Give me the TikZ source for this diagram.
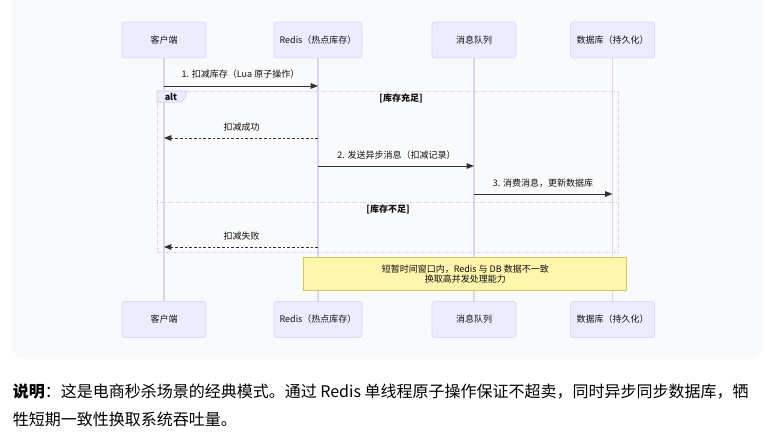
\documentclass[tikz,border=0pt]{standalone}
\usepackage{fontspec}
\setmainfont{Noto Sans CJK SC}
\usetikzlibrary{arrows.meta}
\definecolor{panelbg}{HTML}{F9FAFB}
\definecolor{actorbg}{HTML}{ECECFF}
\definecolor{actorline}{HTML}{DCDAF6}
\definecolor{lifecol}{HTML}{DDD3F5}
\definecolor{framecol}{HTML}{CFC7F0}
\definecolor{arrowcol}{HTML}{333333}
\definecolor{notebg}{HTML}{FFF5AD}
\definecolor{noteline}{HTML}{D2C75E}
\definecolor{textdark}{HTML}{111111}

\begin{document}
\begin{tikzpicture}[
    x=0.75pt, y=-0.75pt,
    every node/.style={inner sep=0pt, text=textdark,
      font=\fontsize{6.75}{8}\selectfont},
    actor/.style={draw=actorline, fill=actorbg, rounded corners=2pt,
      line width=0.6pt, minimum width=63pt, minimum height=27pt},
    life/.style={draw=lifecol, line width=1pt},
    msg/.style={draw=arrowcol, line width=0.7pt,
      -{Triangle[length=5.5pt,width=4.2pt]}},
    reply/.style={msg, dash pattern=on 2pt off 1.5pt},
    frame/.style={draw=framecol, line width=0.5pt, dash pattern=on 1pt off 1pt},
    note/.style={draw=noteline, fill=notebg, line width=0.75pt,
      minimum width=242pt, minimum height=24.75pt, align=center,
      font=\fontsize{6.75}{7.7}\selectfont}
  ]
  \useasboundingbox (0,0) rectangle (770,435);
  \fill[panelbg, rounded corners=9pt] (12,-20) rectangle (763,359);

  % participants
  \node (cliT) [actor] at (164,40) {客户端};
  \node (redT) [actor, minimum width=66pt] at (318,40) {Redis（热点库存）};
  \node (mqT) [actor] at (474,40) {消息队列};
  \node (dbT) [actor] at (612.5,40) {数据库（持久化）};
  \node (cliB) [actor] at (164,319.5) {客户端};
  \node (redB) [actor, minimum width=66pt] at (318,319.5) {Redis（热点库存）};
  \node (mqB) [actor] at (474,319.5) {消息队列};
  \node (dbB) [actor] at (612.5,319.5) {数据库（持久化）};
  \draw[life] (cliT) -- (cliB);
  \draw[life] (redT) -- (redB);
  \draw[life] (mqT) -- (mqB);
  \draw[life] (dbT) -- (dbB);

  % alt block
  \draw[frame] (157,91) rectangle (618,252.5);
  \draw[frame] (157,202) -- (618,202);
  \filldraw[draw=framecol, fill=actorbg, line width=0.5pt]
    (157,91) -- (186,91) -- (186,97) -- (181,102) -- (157,102) -- cycle;
  \node (alt) at (171,97) {\bfseries alt};
  \node (ok) at (401,98.5) {\bfseries [库存充足]};
  \node (fail) at (388,209.5) {\bfseries [库存不足]};

  % messages
  \coordinate (r1) at (0,86);
  \coordinate (r2) at (0,138);
  \coordinate (r3) at (0,166);
  \coordinate (r4) at (0,194);
  \coordinate (r5) at (0,247);
  \draw[msg] (cliT |- r1) -- (redT |- r1);
  \node (m1) at (240.5,74.5) {1. 扣减库存（Lua 原子操作）};
  \draw[reply] (redT |- r2) -- (cliT |- r2);
  \node (m2) at (241.5,127) {扣减成功};
  \draw[msg] (redT |- r3) -- (mqT |- r3);
  \node (m3) at (396.5,155) {2. 发送异步消息（扣减记录）};
  \draw[msg] (mqT |- r4) -- (dbT |- r4);
  \node (m4) at (543,183.5) {3. 消费消息，更新数据库};
  \draw[reply] (redT |- r5) -- (cliT |- r5);
  \node (m5) at (241.5,236) {扣减失败};

  \node (gap) [note] at (465.3,274.2) {短暂时间窗口内，Redis 与 DB 数据不一致\\换取高并发处理能力};

  % caption below
  \node (desc1) [anchor=base west, font=\fontsize{12}{21}\selectfont, text=black]
    at (12.5,397) {\bfseries 说明\mdseries：这是电商秒杀场景的经典模式。通过 Redis 单线程原子操作保证不超卖，同时异步同步数据库，牺};
  \node (desc2) [anchor=base west, font=\fontsize{12}{21}\selectfont, text=black]
    at (12.5,425) {牲短期一致性换取系统吞吐量。};
\end{tikzpicture}
\end{document}
